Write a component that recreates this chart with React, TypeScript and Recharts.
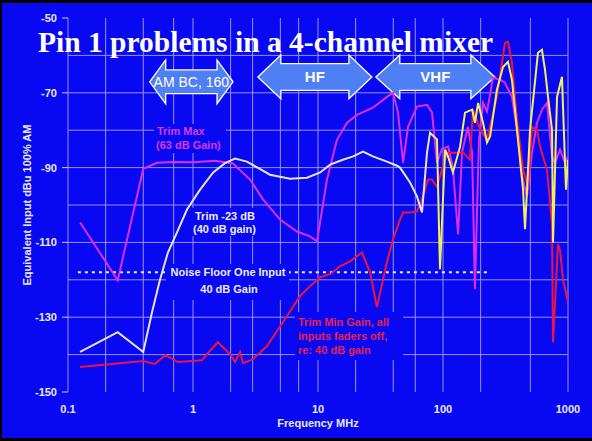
import React from 'react';
import {
  LineChart,
  Line,
  XAxis,
  YAxis,
  CartesianGrid,
  ReferenceLine,
  ReferenceArea,
} from 'recharts';

// Trim at maximum (63 dB gain)
const trimMaxFreq = [
  0.125, 0.25, 0.4, 0.515, 0.7, 1.0, 1.5, 2.09, 2.86, 3.63, 4.97, 6.79, 8.63, 9.82,
  11.8, 14.2, 17.1, 20.5, 27.5, 35.6, 39.8, 43.7, 47.9, 52.5, 61.9, 74.5, 81.7, 89.5,
  98.2, 110, 120, 132, 142, 158, 171, 180, 194, 209, 225, 251, 286, 313, 356, 391, 429,
  470, 515, 565, 619, 679, 745, 787, 863, 946, 1000,
];
const trimMaxDb = [
  -104.7, -120.1, -90.3, -88.7, -88.5, -88.6, -88.2, -88.9, -93.2, -98.5, -103.9, -107.1,
  -108.4, -109.7, -93.2, -82.5, -78, -75.9, -74, -71.1, -70, -75.3, -88.7, -79.1, -73.7,
  -73.2, -75.3, -88.7, -85, -84.4, -90, -107.9, -86, -79.1, -86, -122.5, -82.5, -72.7,
  -75, -66, -66.5, -67.3, -71.1, -79.9, -92.4, -97.7, -86, -78, -74.5, -72.7, -87.1,
  -88.7, -85.2, -88.7, -87.1,
];

// Trim at -23 dB (40 dB gain)
const trim23Freq = [
  0.125, 0.25, 0.4, 0.47, 0.545, 0.63, 0.745, 0.895, 1.14, 1.45, 1.8, 2.17, 2.7, 4.13,
  5.97, 8.17, 10.4, 12.5, 15.8, 19.1, 22.9, 27.5, 35.6, 42.9, 45.3, 54.5, 61.9, 67.9,
  74.5, 78.7, 89.5, 94.6, 104, 110, 120, 137, 150, 171, 180, 191, 209, 225, 238, 270,
  302, 331, 356, 391, 437, 453, 497, 575, 619, 655, 692, 745, 759, 817, 895, 912, 964,
  1000,
];
const trim23Db = [
  -139.3, -134, -139.3, -128.7, -119.9, -112.7, -107.3, -101.2, -95.9, -91.3, -88.8,
  -87.6, -88.4, -91.9, -93, -92.7, -91.3, -89.2, -87.9, -87, -85.7, -87, -88.4, -89.5,
  -90, -94, -97.7, -102, -86, -80.7, -82.5, -117.2, -85.2, -87.1, -91.3, -84.4, -75.3,
  -74.5, -78, -72.7, -78, -83.3, -81.7, -69.2, -63.1, -61.7, -66.5, -79.9, -95.9, -106.5,
  -79.9, -59.3, -58.5, -63.9, -71.1, -79.9, -110, -71.1, -65.7, -73.7, -95.9, -87.9,
];

// Trim at minimum gain, all input faders off
const trimMinFreq = [
  0.125, 0.4, 0.497, 0.6, 0.76, 1.18, 1.29, 1.58, 1.98, 2.17, 2.38, 2.51, 3.02, 3.91,
  5.25, 7.18, 8.63, 10.4, 12.5, 15, 18, 22.5, 26.1, 29.6, 35.6, 39.8, 45.3, 47.9, 54.5,
  61.9, 69.2, 75.9, 81.7, 89.5, 98.2, 108, 125, 145, 164, 174, 198, 225, 270, 313, 331,
  356, 391, 437, 479, 515, 565, 597, 679, 745, 759, 832, 863, 912, 1000,
];
const trimMinDb = [
  -143.3, -141.7, -142.5, -140.1, -142, -141.5, -139.9, -136.7, -139.9, -142, -139.3,
  -142.3, -141.2, -137.7, -131.3, -124.4, -121.7, -119.3, -118.5, -116.4, -115.1,
  -112.7, -118, -127.3, -115.3, -109.2, -103.9, -102, -102, -101.7, -97.7, -93.2, -93.2,
  -95.1, -90.5, -86, -86, -86, -87.9, -74.5, -79.9, -82.5, -71.1, -56.7, -56.4, -62,
  -77.2, -90.5, -95.1, -79.1, -79.9, -84.4, -90.5, -105, -136.7, -110.5, -112, -119.9,
  -126,
];

const noiseFloorDb = -118;
const noiseFloorSpan = [0.12, 225];

const freqTicks = [0.1, 1, 10, 100, 1000];
const dbTicks = [-150, -130, -110, -90, -70, -50];
const gridDb = [-140, -130, -120, -110, -100, -90, -80, -70, -60];

// 1-2-...-9 lines in every decade
const gridFreq: number[] = [];
[0.1, 1, 10, 100].forEach((decade) => {
  for (let m = 1; m < 10; m++) gridFreq.push(Number((decade * m).toPrecision(3)));
});
gridFreq.push(1000);

const bands = [
  { name: 'AM BC, 160', from: 0.45, to: 2.09, top: -61.2, bottom: -72.9, head: 16, inset: 10, bold: false },
  { name: 'HF', from: 3.3, to: 27, top: -59.9, bottom: -71.6, head: 23, inset: 8.5, bold: true },
  { name: 'VHF', from: 29, to: 260, top: -59.9, bottom: -71.6, head: 24, inset: 8.5, bold: true },
];

const BG = '#0808f2';
const GRID = '#9494fb';
const SANS = '"Liberation Sans", Arial, sans-serif';

const zip = (fs: number[], ds: number[]) => fs.map((f, i) => ({ f, db: ds[i] }));

function BandArrow(props: any) {
  const { x, y, width: w, height: h, band } = props;
  const hl = band.head;
  const si = band.inset;
  const cy = y + h / 2;
  const pts = [
    [x, cy],
    [x + hl, y],
    [x + hl, y + si],
    [x + w - hl, y + si],
    [x + w - hl, y],
    [x + w, cy],
    [x + w - hl, y + h],
    [x + w - hl, y + h - si],
    [x + hl, y + h - si],
    [x + hl, y + h],
  ]
    .map((p) => p.join(','))
    .join(' ');
  return (
    <g>
      <polygon points={pts} fill="#4f7ff4" stroke="#ffffff" strokeWidth={1.3} />
      <text
        x={x + w / 2}
        y={cy + 5}
        textAnchor="middle"
        fill="#ffffff"
        fontFamily={SANS}
        fontSize={band.bold ? 15 : 14}
        fontWeight={band.bold ? 700 : 400}
      >
        {band.name}
      </text>
    </g>
  );
}

export default function App() {
  const labelFont = { fontFamily: SANS, fontSize: 11, fontWeight: 700 };
  return (
    <div style={{ position: 'absolute', left: 0, top: 0, width: 592, height: 441, background: BG }}>
      <LineChart width={592} height={441} margin={{ top: 18, right: 24, bottom: 0, left: 0 }}>
        <defs>
          <linearGradient id="trim23Stroke" x1="0" y1="0" x2="1" y2="0">
            <stop offset="0.7" stopColor="#e4e4dc" />
            <stop offset="0.735" stopColor="#f2ee5c" />
          </linearGradient>
        </defs>
        <CartesianGrid
          stroke={GRID}
          strokeWidth={1}
          horizontalValues={gridDb}
          verticalValues={gridFreq}
        />
        <XAxis
          dataKey="f"
          type="number"
          scale="log"
          domain={[0.1, 1000]}
          ticks={freqTicks}
          allowDataOverflow
          height={49}
          axisLine={false}
          tickLine={false}
          tickSize={6}
          tickMargin={7}
          tickFormatter={(v: number) => String(v)}
          tick={{ fill: '#e8e8f8', ...labelFont }}
        />
        <YAxis
          type="number"
          domain={[-150, -50]}
          ticks={dbTicks}
          allowDataOverflow
          width={68}
          axisLine={false}
          tickLine={{ stroke: '#c8c8ff' }}
          tickSize={6}
          tickMargin={5}
          tick={{ fill: '#e8e8f8', ...labelFont }}
        />
        <ReferenceLine
          segment={[
            { x: noiseFloorSpan[0], y: noiseFloorDb },
            { x: noiseFloorSpan[1], y: noiseFloorDb },
          ]}
          stroke="#f0f0ff"
          strokeWidth={2}
          strokeDasharray="3 4"
        />
        <Line
          data={zip(trimMaxFreq, trimMaxDb)}
          dataKey="db"
          type="linear"
          stroke="#e22be8"
          strokeWidth={2}
          dot={false}
          isAnimationActive={false}
        />
        <Line
          data={zip(trimMinFreq, trimMinDb)}
          dataKey="db"
          type="linear"
          stroke="#eb1446"
          strokeWidth={2}
          dot={false}
          isAnimationActive={false}
        />
        <Line
          data={zip(trim23Freq, trim23Db)}
          dataKey="db"
          type="linear"
          stroke="url(#trim23Stroke)"
          strokeWidth={2}
          dot={false}
          isAnimationActive={false}
        />
        {bands.map((b) => (
          <ReferenceArea
            key={b.name}
            x1={b.from}
            x2={b.to}
            y1={b.bottom}
            y2={b.top}
            shape={(p: any) => <BandArrow {...p} band={b} />}
          />
        ))}
      </LineChart>

      <svg
        width={592}
        height={441}
        style={{ position: 'absolute', left: 0, top: 0, pointerEvents: 'none' }}
      >
        {/* frame */}
        <rect x={0} y={0} width={592} height={3} fill="#000" />
        <rect x={0} y={0} width={2} height={441} fill="#000" />
        <rect x={0} y={438} width={592} height={3} fill="#000" />

        <text
          x={38}
          y={52}
          fill="#ffffff"
          fontFamily='"Liberation Serif", "Times New Roman", serif'
          fontSize={29.5}
          fontWeight={700}
        >
          Pin 1 problems in a 4-channel mixer
        </text>

        {/* curve captions */}
        <rect x={154} y={124} width={72} height={29} fill={BG} />
        <text x={157} y={135} fill="#d83ae6" {...labelFont}>Trim Max</text>
        <text x={156} y={149} fill="#d83ae6" {...labelFont}>(63 dB Gain)</text>

        <rect x={192} y={208} width={70} height={28} fill={BG} />
        <text x={195} y={220} fill="#ececf4" {...labelFont}>Trim -23 dB</text>
        <text x={193} y={233} fill="#ececf4" {...labelFont}>(40 dB gain)</text>

        <rect x={166} y={264} width={123} height={36} fill={BG} />
        <text x={228} y={276} textAnchor="middle" fill="#ececf4" {...labelFont}>Noise Floor One Input</text>
        <text x={229} y={293} textAnchor="middle" fill="#ececf4" {...labelFont}>40 dB Gain</text>

        <rect x={295} y={312} width={108} height={48} fill={BG} />
        <text x={298} y={326} fill="#e8204e" {...labelFont}>Trim Min Gain, all</text>
        <text x={298} y={340} fill="#e8204e" {...labelFont}>inputs faders off,</text>
        <text x={298} y={354} fill="#e8204e" {...labelFont}>re: 40 dB gain</text>

        {/* axis titles */}
        <text
          x={31}
          y={205}
          transform="rotate(-90 31 205)"
          textAnchor="middle"
          fill="#e8e8f8"
          {...labelFont}
        >
          Equivalent Input dBu 100% AM
        </text>
        <text x={318} y={427} textAnchor="middle" fill="#e8e8f8" {...labelFont}>
          Frequency  MHz
        </text>
      </svg>
    </div>
  );
}
